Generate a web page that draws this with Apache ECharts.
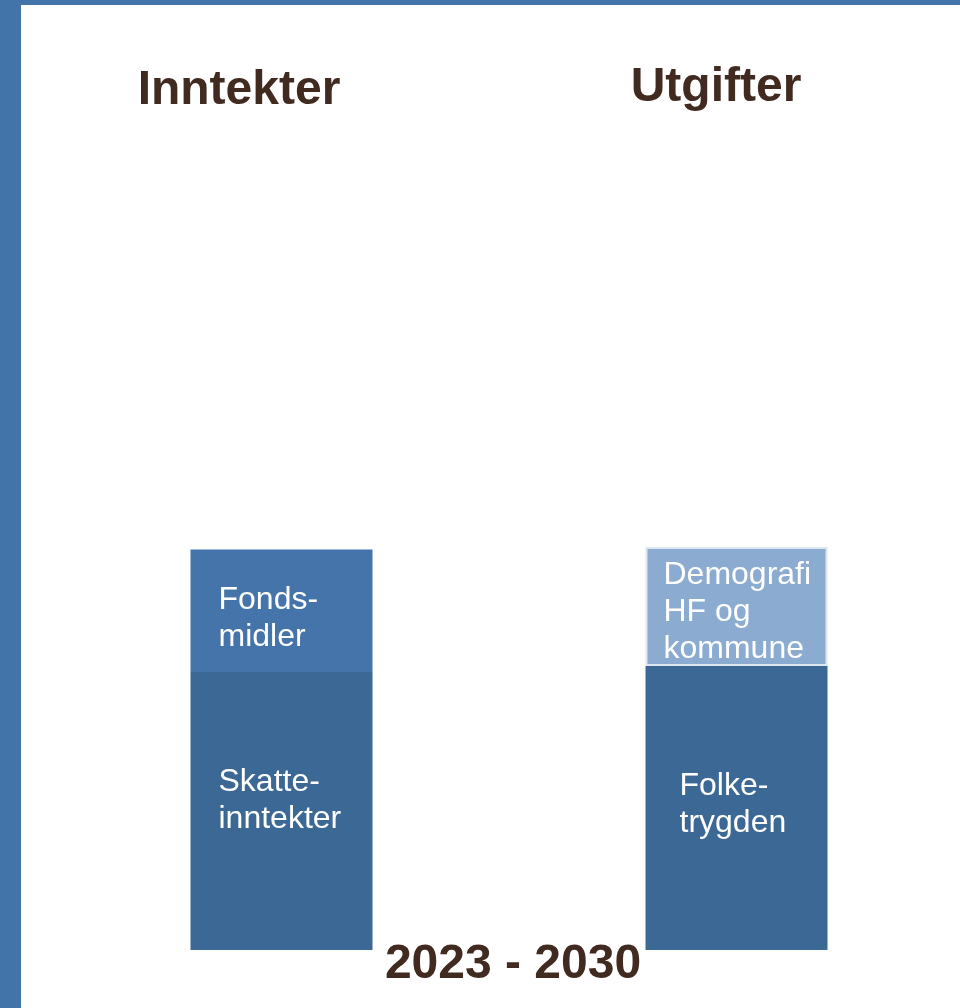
<!DOCTYPE html>
<html>
<head>
<meta charset="utf-8">
<script src="https://cdn.jsdelivr.net/npm/echarts@6/dist/echarts.min.js"></script>
<style>
  html, body { margin: 0; padding: 0; background: #fff; }
  #chart { width: 960px; height: 1008px; }
</style>
</head>
<body>
<div id="chart"></div>
<script>
// to kolonner: inntekter og utgifter
const categories = ["Inntekter", "Utgifter"];
const bottomValues = [278, 284];        // skatteinntekter / folketrygden
const topValues = [122.5, 119];         // fondsmidler / demografi
const bottomLabels = ["Skatte-\ninntekter", "Folke-\ntrygden"];
const topLabels = ["Fonds-\nmidler", "Demografi\nHF og\nkommune"];
const periodLabel = "2023 - 2030";

const textFont = "'Liberation Sans', Arial, sans-serif";
const brown = "#412a20";

var chart = echarts.init(document.getElementById("chart"));

var option = {
  backgroundColor: "#fff",
  animation: false,
  grid: { left: 54, width: 910, top: 150, bottom: 58, outerBoundsMode: "none" },
  xAxis: { type: "category", data: categories, show: false },
  yAxis: { type: "value", min: 0, max: 800, show: false },
  graphic: [
    { type: "rect", shape: { x: 0, y: 0, width: 960, height: 5 }, style: { fill: "#4274a9" } },
    { type: "rect", shape: { x: 0, y: 0, width: 21, height: 1008 }, style: { fill: "#4274a9" } },
    {
      type: "text", x: 239, y: 91,
      style: { text: categories[0], font: "bold 48px " + textFont, fill: brown, align: "center", verticalAlign: "middle" }
    },
    {
      type: "text", x: 716, y: 88,
      style: { text: categories[1], font: "bold 48px " + textFont, fill: brown, align: "center", verticalAlign: "middle" }
    },
    {
      type: "text", x: 513, y: 965,
      style: { text: periodLabel, font: "bold 48px " + textFont, fill: brown, align: "center", verticalAlign: "middle" }
    }
  ],
  series: [
    {
      name: "bunn",
      type: "bar",
      stack: "a",
      barWidth: 182,
      itemStyle: { color: "#3c6896" },
      label: {
        show: true,
        color: "#fff",
        fontSize: 32,
        fontFamily: textFont,
        lineHeight: 37,
        align: "left",
        verticalAlign: "middle"
      },
      data: [
        { value: bottomValues[0], label: { position: [28, 129], formatter: bottomLabels[0] } },
        { value: bottomValues[1], label: { position: [34, 139], formatter: bottomLabels[1] } }
      ]
    },
    {
      name: "topp",
      type: "bar",
      stack: "a",
      barWidth: 182,
      label: {
        show: true,
        color: "#fff",
        fontSize: 32,
        fontFamily: textFont,
        lineHeight: 37,
        align: "left",
        verticalAlign: "middle"
      },
      data: [
        {
          value: topValues[0],
          itemStyle: { color: "#4474a9" },
          label: { position: [28, 69], formatter: topLabels[0] }
        },
        {
          value: topValues[1],
          itemStyle: { color: "#8babd0", borderColor: "#dde7f1", borderWidth: 2 },
          label: { position: [18, 65], formatter: topLabels[1] }
        }
      ]
    }
  ]
};

chart.setOption(option);
</script>
</body>
</html>
